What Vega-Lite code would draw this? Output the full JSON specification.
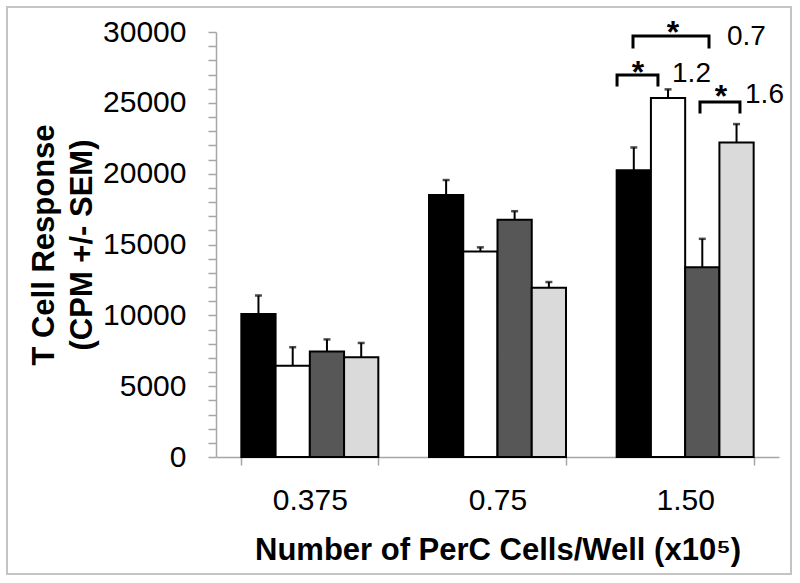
{
  "$schema": "https://vega.github.io/schema/vega-lite/v6.json",
  "width": 784,
  "height": 567,
  "autosize": "none",
  "padding": {"left": 7, "top": 7, "right": 9, "bottom": 9},
  "background": "white",
  "config": {
    "view": {"stroke": "#c4c4c4", "strokeWidth": 2},
    "font": "Liberation Sans"
  },
  "datasets": {
    "bars": [
      {"dose": "0.375", "series": "S1", "value": 10100, "upper": 11400},
      {"dose": "0.375", "series": "S2", "value": 6450, "upper": 7750},
      {"dose": "0.375", "series": "S3", "value": 7450, "upper": 8300},
      {"dose": "0.375", "series": "S4", "value": 7050, "upper": 8050},
      {"dose": "0.75", "series": "S1", "value": 18500, "upper": 19550},
      {"dose": "0.75", "series": "S2", "value": 14500, "upper": 14800},
      {"dose": "0.75", "series": "S3", "value": 16750, "upper": 17350},
      {"dose": "0.75", "series": "S4", "value": 11950, "upper": 12350},
      {"dose": "1.50", "series": "S1", "value": 20250, "upper": 21850},
      {"dose": "1.50", "series": "S2", "value": 25350, "upper": 25950},
      {"dose": "1.50", "series": "S3", "value": 13400, "upper": 15400},
      {"dose": "1.50", "series": "S4", "value": 22200, "upper": 23500}
    ],
    "brackets": [
      {"bracket": "b1", "ord": 1, "pos": 2.137, "value": 26259},
      {"bracket": "b1", "ord": 2, "pos": 2.137, "value": 26965},
      {"bracket": "b1", "ord": 3, "pos": 2.355, "value": 26965},
      {"bracket": "b1", "ord": 4, "pos": 2.355, "value": 26259},
      {"bracket": "b2", "ord": 1, "pos": 2.222, "value": 28941},
      {"bracket": "b2", "ord": 2, "pos": 2.222, "value": 29718},
      {"bracket": "b2", "ord": 3, "pos": 2.627, "value": 29718},
      {"bracket": "b2", "ord": 4, "pos": 2.627, "value": 28941},
      {"bracket": "b3", "ord": 1, "pos": 2.579, "value": 24353},
      {"bracket": "b3", "ord": 2, "pos": 2.579, "value": 25059},
      {"bracket": "b3", "ord": 3, "pos": 2.792, "value": 25059},
      {"bracket": "b3", "ord": 4, "pos": 2.792, "value": 24353}
    ],
    "stars": [
      {"text": "*", "pos": 2.249, "value": 26400},
      {"text": "*", "pos": 2.435, "value": 29224},
      {"text": "*", "pos": 2.691, "value": 24706}
    ],
    "ratios": [
      {"text": "1.2", "pos": 2.43, "value": 26470},
      {"text": "0.7", "pos": 2.723, "value": 29082},
      {"text": "1.6", "pos": 2.819, "value": 24988}
    ]
  },
  "layer": [
    {
      "layer": [
        {
          "data": {"name": "bars"},
          "mark": {"type": "bar", "stroke": "black", "strokeWidth": 2},
          "encoding": {
            "x": {
              "field": "dose", "type": "nominal", "sort": ["0.375", "0.75", "1.50"],
              "scale": {"range": [209, 772], "paddingInner": 0.27, "paddingOuter": 0.135},
              "axis": {
                "title": "Number of PerC Cells/Well (x10⁵)",
                "titleFontSize": 31, "titleFontWeight": "bold", "titleColor": "black",
                "labelFontSize": 30, "labelColor": "black", "labelAngle": 0,
                "labelPadding": 20, "titlePadding": 20,
                "tickBand": "extent", "tickSize": 8, "tickColor": "#a6a6a6",
                "domainColor": "#a6a6a6", "domainWidth": 1.5, "tickWidth": 1.5,
                "offset": -117
              }
            },
            "xOffset": {
              "field": "series", "type": "nominal",
              "scale": {"domain": ["S1", "S2", "S3", "S4"], "paddingInner": 0, "paddingOuter": 0}
            },
            "y": {
              "field": "value", "type": "quantitative",
              "scale": {"domain": [0, 30000], "range": [450, 25], "nice": false},
              "axis": {
                "title": ["T Cell Response", "(CPM +/- SEM)"],
                "titleFontSize": 31, "titleFontWeight": "bold", "titleColor": "black",
                "titleLineHeight": 38, "titlePadding": 4,
                "values": [0, 1000, 2000, 3000, 4000, 5000, 6000, 7000, 8000, 9000, 10000, 11000, 12000, 13000, 14000, 15000, 16000, 17000, 18000, 19000, 20000, 21000, 22000, 23000, 24000, 25000, 26000, 27000, 28000, 29000, 30000],
                "tickCount": 100,
                "labelExpr": "datum.value % 5000 === 0 ? format(datum.value, 'd') : ''",
                "labelOverlap": false, "labelBound": false,
                "labelFontSize": 30, "labelColor": "black", "labelPadding": 22,
                "tickSize": 8, "tickColor": "#a6a6a6", "tickWidth": 1.5,
                "domainColor": "#a6a6a6", "domainWidth": 1.5,
                "grid": false, "offset": -209
              }
            },
            "fill": {
              "field": "series", "type": "nominal",
              "scale": {"domain": ["S1", "S2", "S3", "S4"], "range": ["#000000", "#ffffff", "#575757", "#dadada"]},
              "legend": null
            }
          }
        },
        {
          "data": {"name": "bars"},
          "mark": {"type": "rule", "color": "black", "strokeWidth": 2},
          "encoding": {
            "x": {"field": "dose", "type": "nominal", "sort": ["0.375", "0.75", "1.50"]},
            "xOffset": {"field": "series", "type": "nominal"},
            "y": {"field": "value", "type": "quantitative"},
            "y2": {"field": "upper"}
          }
        },
        {
          "data": {"name": "bars"},
          "mark": {"type": "tick", "color": "black", "size": 7, "thickness": 2.5, "orient": "horizontal"},
          "encoding": {
            "x": {"field": "dose", "type": "nominal", "sort": ["0.375", "0.75", "1.50"]},
            "xOffset": {"field": "series", "type": "nominal"},
            "y": {"field": "upper", "type": "quantitative"}
          }
        }
      ]
    },
    {
      "layer": [
        {
          "data": {"name": "brackets"},
          "mark": {"type": "line", "color": "black", "strokeWidth": 3, "strokeJoin": "miter", "strokeCap": "square"},
          "encoding": {
            "x": {"field": "pos", "type": "quantitative", "scale": {"domain": [0, 3], "range": [209, 772], "nice": false, "zero": false}, "axis": null},
            "y": {"field": "value", "type": "quantitative"},
            "detail": {"field": "bracket"},
            "order": {"field": "ord"}
          }
        },
        {
          "data": {"name": "stars"},
          "mark": {"type": "text", "fontSize": 32, "fontWeight": "bold", "align": "center", "baseline": "alphabetic", "color": "black"},
          "encoding": {
            "x": {"field": "pos", "type": "quantitative", "axis": null},
            "y": {"field": "value", "type": "quantitative"},
            "text": {"field": "text"}
          }
        },
        {
          "data": {"name": "ratios"},
          "mark": {"type": "text", "fontSize": 28, "align": "left", "baseline": "alphabetic", "color": "black"},
          "encoding": {
            "x": {"field": "pos", "type": "quantitative", "axis": null},
            "y": {"field": "value", "type": "quantitative"},
            "text": {"field": "text"}
          }
        }
      ]
    }
  ],
  "resolve": {"scale": {"x": "independent"}}
}
